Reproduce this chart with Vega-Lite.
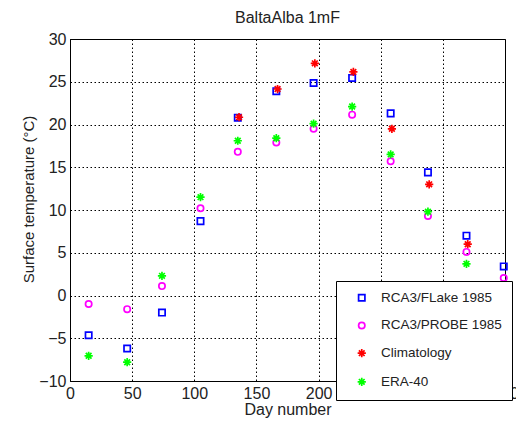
{
  "$schema": "https://vega.github.io/schema/vega-lite/v6.json",
  "autosize": {"type": "none"},
  "padding": {"left": 70, "top": 39, "right": 11, "bottom": 40},
  "width": 435,
  "height": 342,
  "title": {"text": "BaltaAlba 1mF", "fontSize": 16, "font": "Liberation Sans", "fontWeight": "normal", "color": "#222", "anchor": "middle", "frame": "group", "baseline": "bottom", "offset": 11, "dy": 22},
  "data": {"values": [
    {"day": 15, "temp": -4.65, "series": "RCA3/FLake 1985"},
    {"day": 46, "temp": -6.2, "series": "RCA3/FLake 1985"},
    {"day": 74, "temp": -2.0, "series": "RCA3/FLake 1985"},
    {"day": 105, "temp": 8.7, "series": "RCA3/FLake 1985"},
    {"day": 135, "temp": 20.8, "series": "RCA3/FLake 1985"},
    {"day": 166, "temp": 23.9, "series": "RCA3/FLake 1985"},
    {"day": 196, "temp": 24.85, "series": "RCA3/FLake 1985"},
    {"day": 227, "temp": 25.45, "series": "RCA3/FLake 1985"},
    {"day": 258, "temp": 21.3, "series": "RCA3/FLake 1985"},
    {"day": 288, "temp": 14.4, "series": "RCA3/FLake 1985"},
    {"day": 319, "temp": 7.0, "series": "RCA3/FLake 1985"},
    {"day": 349, "temp": 3.4, "series": "RCA3/FLake 1985"},
    {"day": 15, "temp": -1.0, "series": "RCA3/PROBE 1985"},
    {"day": 46, "temp": -1.6, "series": "RCA3/PROBE 1985"},
    {"day": 74, "temp": 1.1, "series": "RCA3/PROBE 1985"},
    {"day": 105, "temp": 10.2, "series": "RCA3/PROBE 1985"},
    {"day": 135, "temp": 16.8, "series": "RCA3/PROBE 1985"},
    {"day": 166, "temp": 17.9, "series": "RCA3/PROBE 1985"},
    {"day": 196, "temp": 19.5, "series": "RCA3/PROBE 1985"},
    {"day": 227, "temp": 21.15, "series": "RCA3/PROBE 1985"},
    {"day": 258, "temp": 15.7, "series": "RCA3/PROBE 1985"},
    {"day": 288, "temp": 9.3, "series": "RCA3/PROBE 1985"},
    {"day": 319, "temp": 5.1, "series": "RCA3/PROBE 1985"},
    {"day": 349, "temp": 2.05, "series": "RCA3/PROBE 1985"},
    {"day": 136, "temp": 20.85, "series": "Climatology"},
    {"day": 167, "temp": 24.15, "series": "Climatology"},
    {"day": 197, "temp": 27.15, "series": "Climatology"},
    {"day": 228, "temp": 26.15, "series": "Climatology"},
    {"day": 259, "temp": 19.5, "series": "Climatology"},
    {"day": 289, "temp": 13.0, "series": "Climatology"},
    {"day": 320, "temp": 6.0, "series": "Climatology"},
    {"day": 15, "temp": -7.05, "series": "ERA-40"},
    {"day": 46, "temp": -7.8, "series": "ERA-40"},
    {"day": 74, "temp": 2.3, "series": "ERA-40"},
    {"day": 105, "temp": 11.5, "series": "ERA-40"},
    {"day": 135, "temp": 18.1, "series": "ERA-40"},
    {"day": 166, "temp": 18.4, "series": "ERA-40"},
    {"day": 196, "temp": 20.1, "series": "ERA-40"},
    {"day": 227, "temp": 22.1, "series": "ERA-40"},
    {"day": 258, "temp": 16.5, "series": "ERA-40"},
    {"day": 288, "temp": 9.8, "series": "ERA-40"},
    {"day": 319, "temp": 3.7, "series": "ERA-40"}
  ]},
  "mark": {"type": "point", "filled": false, "strokeWidth": 1.7, "size": 40, "opacity": 1},
  "encoding": {
    "x": {"field": "day", "type": "quantitative", "scale": {"domain": [0, 350], "nice": false, "zero": false},
      "axis": {"values": [0, 50, 100, 150, 200, 250, 300, 350], "title": "Day number", "titleFontSize": 16, "titleY": 33, "titleBaseline": "alphabetic", "labelPadding": 4, "labelFlush": false}},
    "y": {"field": "temp", "type": "quantitative", "scale": {"domain": [-10, 30], "nice": false, "zero": false},
      "axis": {"values": [-10, -5, 0, 5, 10, 15, 20, 25, 30], "title": "Surface temperature (°C)", "titleFontSize": 15, "titleX": -37, "titleY": 160, "titleAlign": "center", "titleBaseline": "alphabetic", "labelPadding": 4}},
    "color": {"field": "series", "type": "nominal",
      "scale": {"domain": ["RCA3/FLake 1985", "RCA3/PROBE 1985", "Climatology", "ERA-40"], "range": ["#0000ff", "#ff00ff", "#ff0000", "#00ff00"]},
      "legend": {"orient": "none", "legendX": 266, "legendY": 242, "title": null, "strokeColor": "black", "fillColor": "white", "padding": 10, "labelFontSize": 13.5, "labelFont": "Liberation Sans", "labelColor": "#222", "symbolSize": 40, "symbolStrokeWidth": 1.7, "rowPadding": 12.7, "labelOffset": 12.5, "symbolOffset": 9, "labelExpr": "datum.label + '\u00a0\u00a0\u00a0\u00a0'"}},
    "shape": {"field": "series", "type": "nominal",
      "scale": {"domain": ["RCA3/FLake 1985", "RCA3/PROBE 1985", "Climatology", "ERA-40"], "range": ["square", "circle", "M-1.3,0H1.3M0,-1.3V1.3M-0.9,-0.9L0.9,0.9M-0.9,0.9L0.9,-0.9", "M-1.3,0H1.3M0,-1.3V1.3M-0.9,-0.9L0.9,0.9M-0.9,0.9L0.9,-0.9"]}}
  },
  "config": {
    "font": "Liberation Sans",
    "view": {"stroke": "black", "strokeWidth": 1},
    "axis": {"domainColor": "black", "grid": true, "gridColor": "black", "gridDash": [1.5, 2.5], "gridOpacity": 1, "gridWidth": 1, "ticks": false, "labelFontSize": 16, "labelColor": "#222", "labelFont": "Liberation Sans", "titleFont": "Liberation Sans", "titleFontWeight": "normal", "titleColor": "#222", "labelOverlap": false}
  }
}
